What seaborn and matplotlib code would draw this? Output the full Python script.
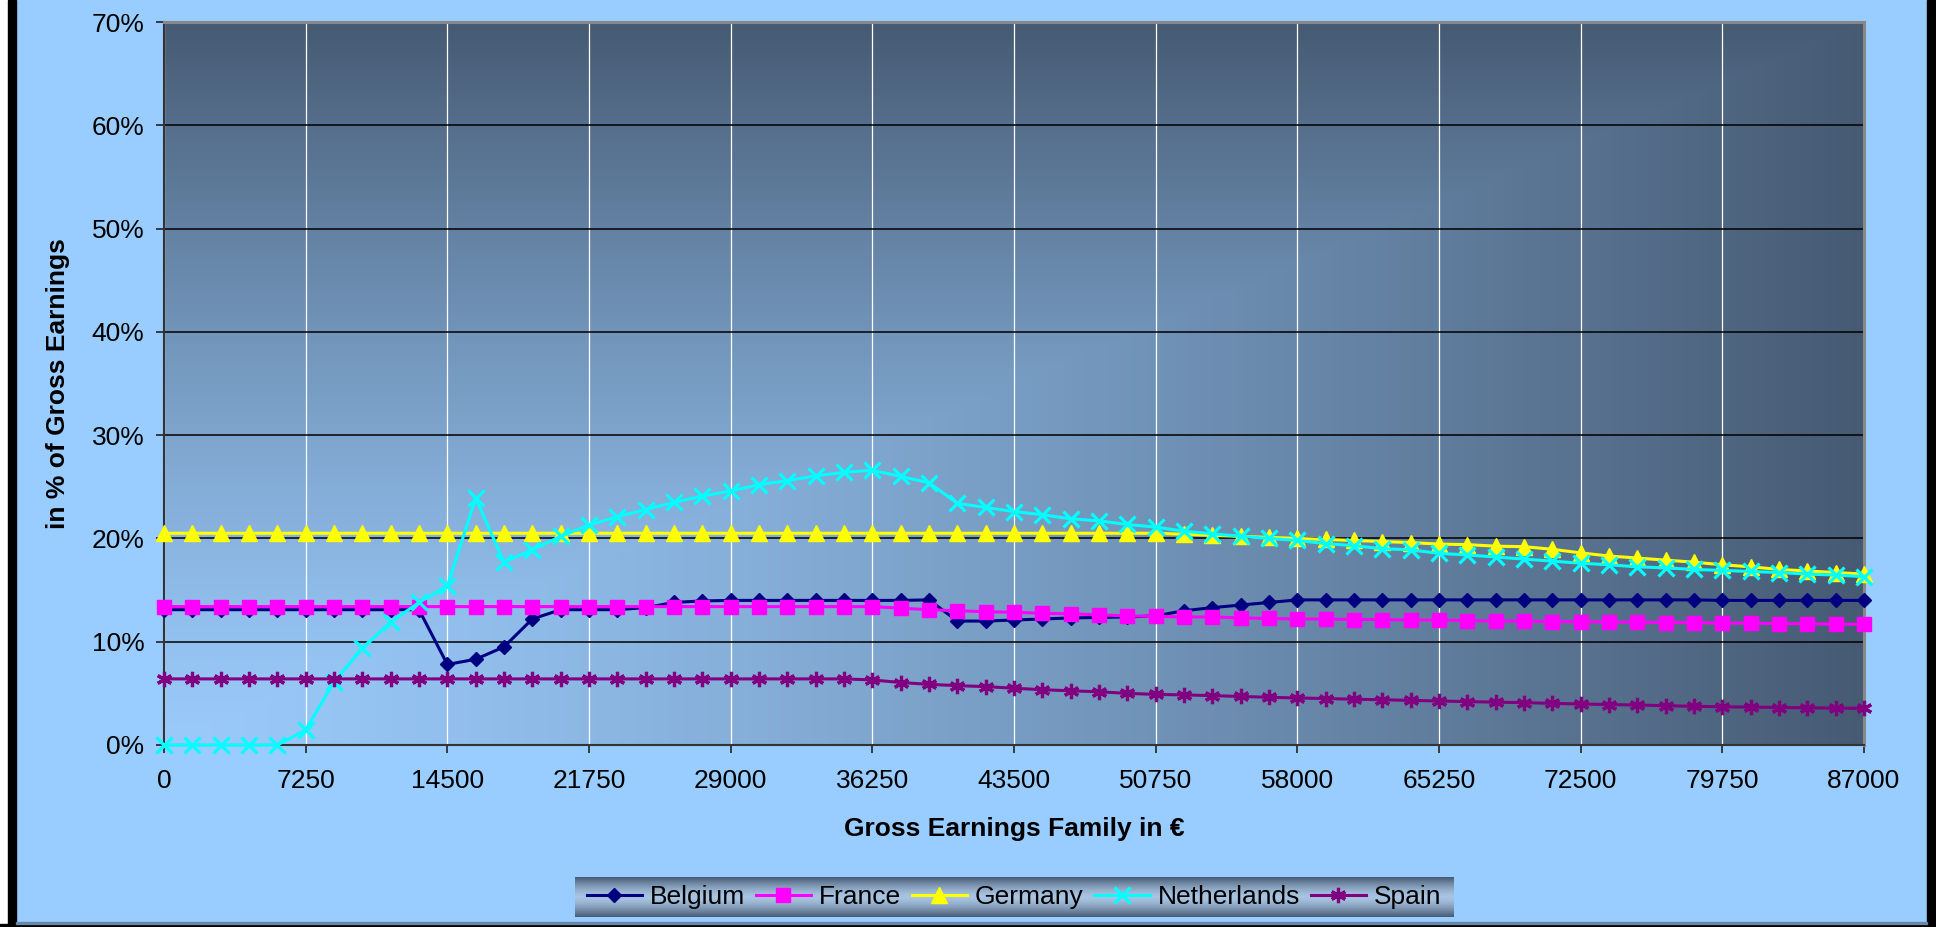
import numpy as np
import pandas as pd
import seaborn as sns
import matplotlib.pyplot as plt
from matplotlib.patches import Rectangle

plt.rcParams['font.family'] = ['Liberation Sans', 'DejaVu Sans']

# gross family earnings, one point every 1450 euro
earnings = list(range(0, 87001, 1450))
tick_vals = [0, 7250, 14500, 21750, 29000, 36250, 43500, 50750, 58000, 65250, 72500, 79750, 87000]
pct_ticks = [0, 10, 20, 30, 40, 50, 60, 70]

belgium = [13.1, 13.1, 13.1, 13.1, 13.1, 13.1, 13.1, 13.1, 13.1, 13.1,
           7.8, 8.3, 9.5, 12.2, 13.1, 13.1, 13.1, 13.3, 13.8, 13.95,
           14.0, 14.0, 14.0, 14.0, 14.0, 14.0, 14.0, 14.05, 12.0, 12.0,
           12.1, 12.2, 12.3, 12.35, 12.4, 12.5, 13.0, 13.3, 13.55, 13.8,
           14.05, 14.05, 14.05, 14.05, 14.05, 14.05, 14.05, 14.05, 14.05, 14.05,
           14.05, 14.05, 14.05, 14.05, 14.05, 14.0, 14.0, 14.0, 14.0, 14.0, 14.0]
france = [13.4, 13.4, 13.4, 13.4, 13.4, 13.4, 13.4, 13.4, 13.4, 13.4,
          13.4, 13.4, 13.4, 13.4, 13.4, 13.4, 13.4, 13.4, 13.4, 13.4,
          13.4, 13.4, 13.4, 13.4, 13.4, 13.4, 13.25, 13.1, 13.0, 12.9,
          12.85, 12.75, 12.7, 12.6, 12.5, 12.45, 12.4, 12.4, 12.3, 12.25,
          12.2, 12.2, 12.15, 12.15, 12.1, 12.1, 12.05, 12.0, 12.0, 11.95,
          11.95, 11.9, 11.9, 11.85, 11.85, 11.8, 11.8, 11.75, 11.75, 11.7, 11.7]
germany = [20.5, 20.5, 20.5, 20.5, 20.5, 20.5, 20.5, 20.5, 20.5, 20.5,
           20.5, 20.5, 20.5, 20.5, 20.5, 20.5, 20.5, 20.5, 20.5, 20.5,
           20.5, 20.5, 20.5, 20.5, 20.5, 20.5, 20.5, 20.5, 20.5, 20.5,
           20.5, 20.5, 20.5, 20.5, 20.5, 20.5, 20.4, 20.3, 20.2, 20.1,
           20.0, 19.9, 19.8, 19.7, 19.6, 19.45, 19.4, 19.25, 19.2, 18.95,
           18.6, 18.3, 18.1, 17.9, 17.7, 17.45, 17.25, 17.0, 16.85, 16.7, 16.55]
netherlands = [0.0, 0.0, 0.0, 0.0, 0.0, 1.45, 6.1, 9.35, 11.9, 13.8,
               15.4, 23.9, 17.7, 18.9, 20.2, 21.3, 22.1, 22.8, 23.5, 24.1,
               24.6, 25.2, 25.6, 26.05, 26.4, 26.6, 26.0, 25.4, 23.4, 23.0,
               22.6, 22.3, 21.9, 21.7, 21.35, 21.1, 20.7, 20.45, 20.2, 20.0,
               19.8, 19.5, 19.3, 19.0, 18.9, 18.55, 18.4, 18.2, 18.0, 17.8,
               17.6, 17.45, 17.25, 17.15, 17.0, 16.9, 16.8, 16.7, 16.55, 16.45, 16.3]
spain = [6.4, 6.4, 6.4, 6.4, 6.4, 6.4, 6.4, 6.4, 6.4, 6.4,
         6.4, 6.4, 6.4, 6.4, 6.4, 6.4, 6.4, 6.4, 6.4, 6.4,
         6.4, 6.4, 6.4, 6.4, 6.4, 6.3, 6.05, 5.87, 5.75, 5.65,
         5.5, 5.35, 5.25, 5.15, 5.0, 4.9, 4.85, 4.78, 4.7, 4.62,
         4.55, 4.5, 4.43, 4.38, 4.32, 4.26, 4.2, 4.15, 4.1, 4.03,
         3.97, 3.92, 3.87, 3.8, 3.75, 3.7, 3.67, 3.63, 3.6, 3.57, 3.55]

countries = ["Belgium", "France", "Germany", "Netherlands", "Spain"]
series = [belgium, france, germany, netherlands, spain]
colors = ["#000080", "#FF00FF", "#FFFF00", "#00FFFF", "#800080"]
markers = ["D", "s", "^", "x", (6, 2, 0)]
msizes = [7.5, 10, 11, 11, 11]

W, H = 1936, 927
fig = plt.figure(figsize=(W / 100, H / 100), dpi=100, facecolor="#99CCFF")
ax = fig.add_axes([164 / W, 1 - 745 / H, 1700 / W, 723 / H])

# corner gradient fill of the plot area
gx, gy = np.meshgrid(np.linspace(0, 1, 400), np.linspace(0, 1, 200))
t = np.maximum(gx, gy) ** 1.3
light = np.array([154, 202, 250]) / 255
dark = np.array([70, 90, 115]) / 255
grad = light + (dark - light) * t[..., None]
ax.imshow(grad, extent=(0, 87000, 0, 70), origin="lower", aspect="auto", zorder=0)

for name, vals, c, m, ms in zip(countries, series, colors, markers, msizes):
    df = pd.DataFrame({"earn": earnings, "pct": vals})
    sns.lineplot(data=df, x="earn", y="pct", ax=ax, color=c, marker=m, markersize=ms,
                 markeredgecolor=c, markerfacecolor=c, markeredgewidth=2.3 if m in ("x", (6, 2, 0)) else 1,
                 linewidth=2.2, label=name, clip_on=False, zorder=3)

ax.set_xlim(0, 87000)
ax.set_ylim(0, 70)
ax.set_xticks(tick_vals)
ax.set_xticklabels([str(v) for v in tick_vals])
ax.set_yticks(pct_ticks)
ax.set_yticklabels([f"{v}%" for v in pct_ticks])
ax.set_axisbelow(True)
ax.yaxis.grid(True, color="black", linewidth=1.1)
ax.xaxis.grid(True, color="white", linewidth=0.9)
ax.tick_params(axis="both", labelsize=19, length=6, width=1.2, color="#222222", direction="out")
ax.tick_params(axis="x", pad=11)
ax.tick_params(axis="y", pad=8)
for side in ["top", "right"]:
    ax.spines[side].set_color("#888888")
    ax.spines[side].set_linewidth(2.2)
for side in ["left", "bottom"]:
    ax.spines[side].set_color("#333333")
    ax.spines[side].set_linewidth(1.5)

ax.set_xlabel("Gross Earnings Family in €", fontsize=19, fontweight="bold")
ax.set_ylabel("in % of Gross Earnings", fontsize=19, fontweight="bold")
ax.xaxis.set_label_coords(0.5, (745 - 829) / 723)
ax.xaxis.label.set_va("center")
ax.yaxis.set_label_coords((58 - 164) / 1700, 0.5)
ax.yaxis.label.set_va("center")

handles, labels = ax.get_legend_handles_labels()
ax.get_legend().remove()

# legend box with vertical gradient
lx0, lx1, ly0, ly1 = 575, 1453, 877, 917
lax = fig.add_axes([lx0 / W, 1 - ly1 / H, (lx1 - lx0) / W, (ly1 - ly0) / H])
v = np.abs(np.linspace(-1, 1, 100)) ** 1.5
lcol = np.array([168, 196, 226]) / 255
lgrad = lcol + (dark - lcol) * v[:, None, None]
lax.imshow(np.repeat(lgrad, 10, axis=1), aspect="auto")
lax.axis("off")
fig.legend(handles, labels, loc="center", bbox_to_anchor=((lx0 + lx1) / 2 / W, 1 - (ly0 + ly1) / 2 / H),
           ncol=5, frameon=False, fontsize=19, handlelength=2.1, handletextpad=0.3,
           columnspacing=0.4, borderpad=0.1)

# outer frame strips
fig.add_artist(Rectangle((0, 0), 8 / W, 1, transform=fig.transFigure, color="white"))
fig.add_artist(Rectangle((8 / W, 0), 8 / W, 1, transform=fig.transFigure, color="black"))
fig.add_artist(Rectangle((1927 / W, 0), 8 / W, 1, transform=fig.transFigure, color="black"))
fig.add_artist(Rectangle((0, 0), 1, 3 / H, transform=fig.transFigure, color="black"))
fig.add_artist(Rectangle((16 / W, 3 / H), 1911 / W, 2 / H, transform=fig.transFigure, color="#6a86a8"))

fig.savefig("out.png", dpi=100, facecolor=fig.get_facecolor())
